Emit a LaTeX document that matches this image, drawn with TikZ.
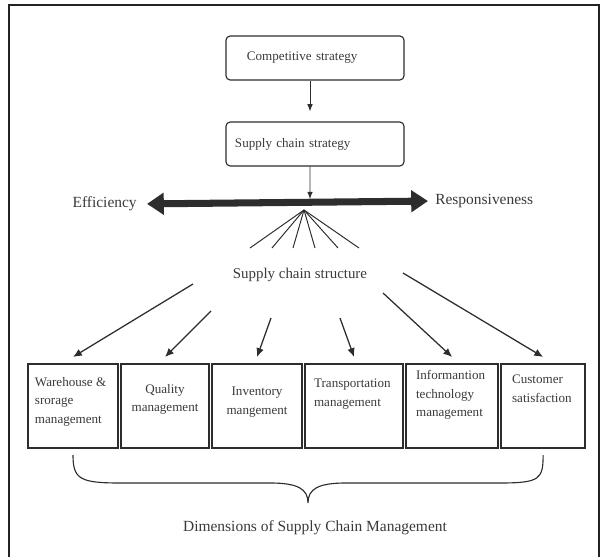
\documentclass[tikz,border=0pt]{standalone}
\usepackage{fontspec}
\setmainfont{Liberation Serif}
\usetikzlibrary{arrows.meta,positioning}
\definecolor{scInk}{RGB}{58,58,58}
\definecolor{scLine}{RGB}{45,45,45}
\definecolor{scFrame}{RGB}{35,35,35}
\newcommand{\dimlines}[3]{\parbox[c][2.1cm][t]{#1}{\vspace*{#2}#3}}
\tikzset{
  stratbox/.style={rounded corners=3pt, draw=scLine, line width=0.8pt, text=scInk,
                   minimum width=4.45cm, minimum height=1.1cm, text width=4.0cm,
                   inner xsep=0.225cm, align=left, font=\fontsize{9.3}{11}\selectfont},
  dimbox/.style={draw=scLine, line width=1pt, text=scInk, inner ysep=0pt, outer xsep=0pt,
                 outer ysep=0.175cm, font=\fontsize{9.3}{13.4}\selectfont},
  sidelabel/.style={text=scInk, inner sep=0pt, font=\fontsize{11}{13}\selectfont},
  thinarrow/.style={-{Latex[length=1.8mm,width=1.4mm]}, line width=0.6pt, draw=scLine},
  arrow/.style={-{Latex[length=2.2mm,width=1.9mm]}, line width=0.9pt, draw=scLine},
  bigarrow/.style={{Triangle[length=0.42cm,width=0.53cm]}-{Triangle[length=0.42cm,width=0.53cm]},
                   line width=5pt, draw=scLine},
  fanline/.style={line width=0.7pt, draw=scLine},
  brace/.style={line width=0.8pt, draw=scLine}
}

\begin{document}
\begin{tikzpicture}[x=0.025cm, y=-0.025cm]
\useasboundingbox (0,0) rectangle (601,557);
\draw[line width=1.2pt, draw=scFrame] (9,557) -- (9,5) -- (599,5) -- (599,557);
\node[stratbox] (comp) at (315,58) {\hspace*{0.3cm}Competitive strategy};
\node[stratbox] (strat) at (315,144) {Supply chain strategy};
\node[sidelabel, anchor=east] (eff) at (137,204) {Efficiency};
\node[sidelabel, anchor=west] (resp) at (435,201) {Responsiveness};
\coordinate (hub) at (310,199);
\coordinate (apex) at (304,210);
\node[text=scInk, font=\fontsize{10.6}{12}\selectfont] (struct) at (300,275) {Supply chain structure};
\node[dimbox, inner xsep=0.175cm] (w1) at (73,406)
  {\dimlines{1.9cm}{0.325cm}{\raggedright Warehouse \&\\srorage\\management}};
\node[dimbox, inner xsep=0.175cm, right=0.075cm of w1] (w2)
  {\dimlines{1.85cm}{0.5cm}{\centering Quality\\management}};
\node[dimbox, inner xsep=0.175cm, right=0.075cm of w2] (w3)
  {\dimlines{1.9cm}{0.575cm}{\centering Inventory\\mangement}};
\node[dimbox, inner xsep=0.225cm, right=0.075cm of w3] (w4)
  {\dimlines{2.0cm}{0.375cm}{\raggedright Transportation\\management}};
\node[dimbox, inner xsep=0.25cm, right=0.075cm of w4] (w5)
  {\dimlines{1.8cm}{0.15cm}{\raggedright Informantion\\technology\\management}};
\node[dimbox, inner xsep=0.275cm, right=0.075cm of w5] (w6)
  {\dimlines{1.55cm}{0.275cm}{\raggedright Customer\\satisfaction}};
\coordinate (tip) at (308,503);
\node[sidelabel] (dimcap) at (315,528) {Dimensions of Supply Chain Management};
\draw[thinarrow, shorten >=0.25cm] ([xshift=-1.25mm]comp.south) -- ([xshift=-1.25mm]strat.north);
\draw[thinarrow] ([xshift=-1.25mm]strat.south) -- (hub);
\draw[bigarrow, shorten <=0.25cm, shorten >=0.175cm] (eff.east) -- (resp.west);
\foreach \x [count=\i] in {250,272,293,315,338,359}{
  \coordinate (fan\i) at (\x,248);
  \draw[fanline] (apex) -- (fan\i);
}
\coordinate (s1) at (193,284);
\coordinate (s2) at (211,311);
\coordinate (s3) at (271,318);
\coordinate (s4) at (340,318);
\coordinate (s5) at (383,293);
\coordinate (s6) at (403,273);
\foreach \i in {1,...,6}{
  \draw[arrow] (s\i) -- (w\i.north);
}
\draw[brace] (w1.south) .. controls +(0,24) and +(-40,0) .. (120,483) -- (270,483)
  .. controls +(28,0) and +(0,-14) .. (tip)
  .. controls +(0,-14) and +(-28,0) .. (346,483) -- (500,483)
  .. controls +(40,0) and +(0,24) .. (w6.south);
\end{tikzpicture}
\end{document}
